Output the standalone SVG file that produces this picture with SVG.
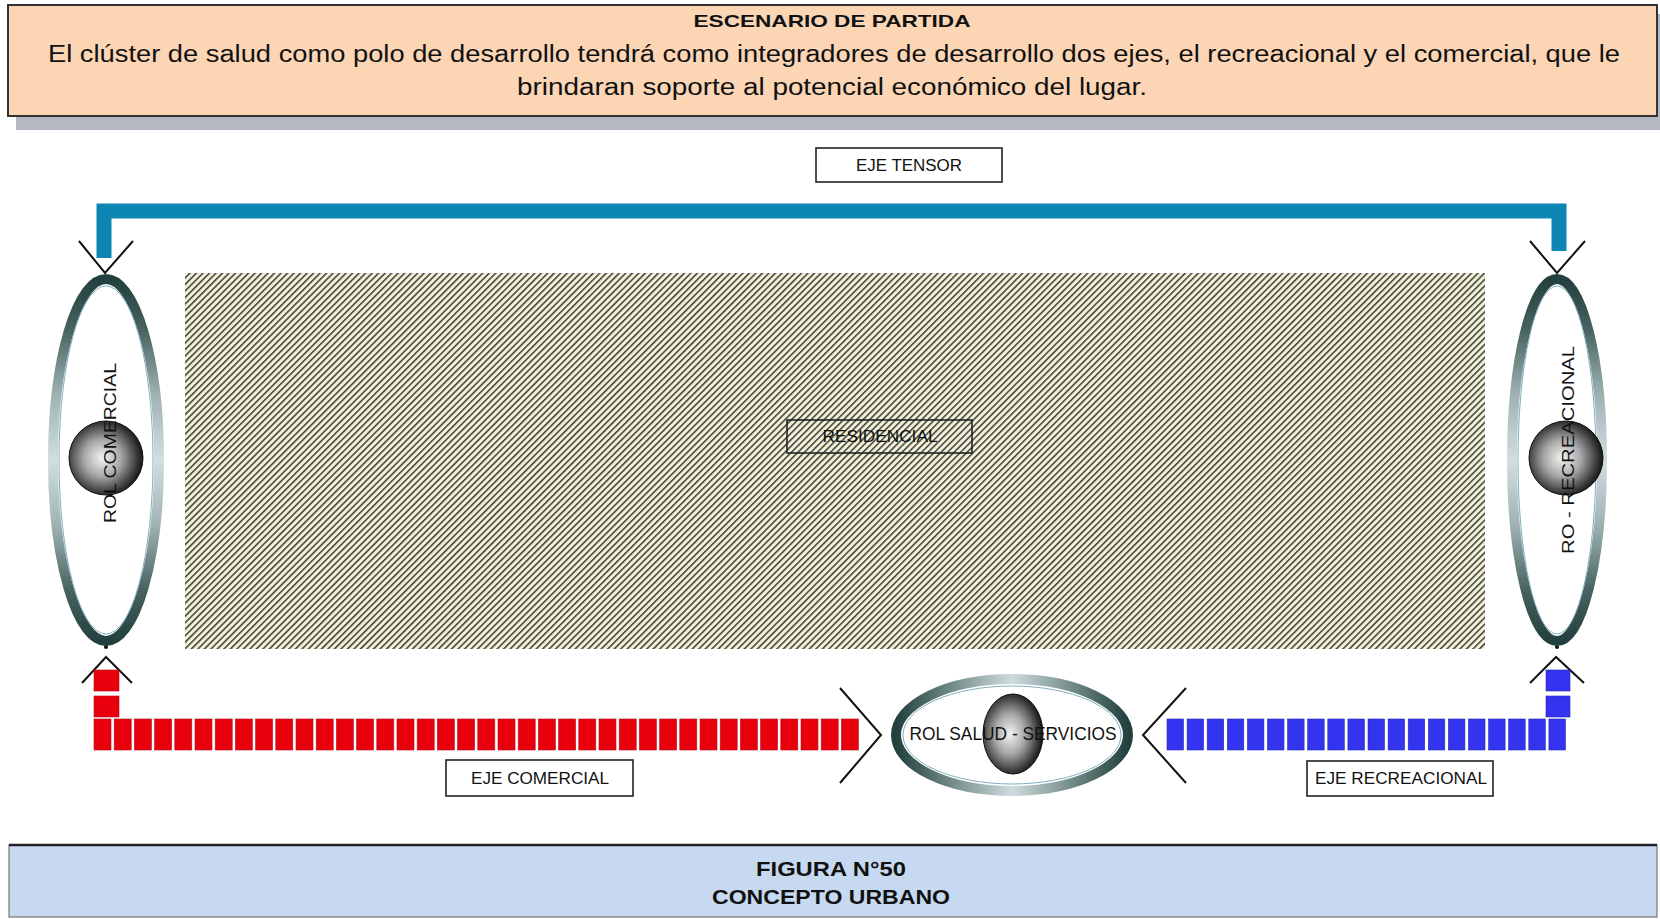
<svg xmlns="http://www.w3.org/2000/svg" width="1660" height="919" viewBox="0 0 1660 919">
<style>
.t{font-family:"Liberation Sans",Arial,sans-serif;fill:#111}
.b{font-weight:bold}
.lbl{fill:#fff;stroke:#222;stroke-width:1.6}
.lbl2{fill:none;stroke:#222;stroke-width:1.6}
.chev{fill:none;stroke:#111;stroke-width:2}
.red{fill:#e8000c;stroke:#b5101a;stroke-width:0.6}
.blue{fill:#3333f0;stroke:#2a2ab8;stroke-width:0.6}
</style>
<defs>
<pattern id="hatch" width="4.6" height="4.6" patternUnits="userSpaceOnUse" patternTransform="rotate(45)">
<rect width="4.6" height="4.6" fill="#f3f3dc"/>
<rect x="0" y="0" width="1.6" height="4.6" fill="#44443a"/>
</pattern>
<linearGradient id="ringV" x1="0" y1="0" x2="0" y2="1">
<stop offset="0" stop-color="#22403e"/>
<stop offset="0.14" stop-color="#48635f"/>
<stop offset="0.32" stop-color="#9fb2b3"/>
<stop offset="0.5" stop-color="#d2dee0"/>
<stop offset="0.68" stop-color="#9fb2b3"/>
<stop offset="0.86" stop-color="#48635f"/>
<stop offset="1" stop-color="#22403e"/>
</linearGradient>
<linearGradient id="ringH" x1="0" y1="0" x2="1" y2="0">
<stop offset="0" stop-color="#22403e"/>
<stop offset="0.18" stop-color="#5d7875"/>
<stop offset="0.5" stop-color="#cfdcde"/>
<stop offset="0.82" stop-color="#5d7875"/>
<stop offset="1" stop-color="#22403e"/>
</linearGradient>
<radialGradient id="sphere" cx="0.45" cy="0.5" r="0.55">
<stop offset="0" stop-color="#f4f4f4"/>
<stop offset="0.45" stop-color="#a8a8a8"/>
<stop offset="0.85" stop-color="#3a3a3a"/>
<stop offset="1" stop-color="#151515"/>
</radialGradient>
</defs>
<rect width="1660" height="919" fill="#fff"/>

<g id="header">
<rect x="16" y="14" width="1650" height="116" fill="#b3b8c2"/>
<rect x="8" y="5" width="1649" height="111" fill="#fcd5b5" stroke="#333" stroke-width="2"/>
<text class="t b" x="832" y="27" font-size="17" text-anchor="middle" textLength="277" lengthAdjust="spacingAndGlyphs">ESCENARIO DE PARTIDA</text>
<text class="t" x="834" y="62" font-size="23" text-anchor="middle" textLength="1572" lengthAdjust="spacingAndGlyphs">El clúster de salud como polo de desarrollo tendrá como integradores de desarrollo dos ejes, el recreacional y el comercial, que le</text>
<text class="t" x="832" y="95" font-size="23" text-anchor="middle" textLength="630" lengthAdjust="spacingAndGlyphs">brindaran soporte  al potencial económico del lugar.</text>
</g>

<g id="residencial">
<rect x="185" y="273" width="1300" height="376" fill="url(#hatch)"/>
<rect x="787" y="420" width="185" height="33" class="lbl2"/>
<text class="t" x="880" y="442" font-size="16" text-anchor="middle" textLength="115" lengthAdjust="spacingAndGlyphs" fill="#333">RESIDENCIAL</text>
</g>

<g id="connectors">
<path d="M104,258 V211 H1559 V251" fill="none" stroke="#0e86b4" stroke-width="15"/>
<polyline class="chev" points="79,241 105,273 133,241"/>
<polyline class="chev" points="1530,241 1557,273 1585,241"/>
<polyline class="chev" points="82,683 106,657 132,683"/>
<polyline class="chev" points="1530,683 1556,657 1584,683"/>
<polyline class="chev" points="840,688 881,735 840,783"/>
<polyline class="chev" points="1186,688 1143,735 1186,783"/>
<circle cx="106" cy="647" r="2" fill="#111"/>
<circle cx="1557" cy="647" r="2" fill="#111"/>
</g>

<g id="eje-tensor">
<rect x="816" y="148" width="186" height="34" class="lbl"/>
<text class="t" x="909" y="171" font-size="16" text-anchor="middle" textLength="106" lengthAdjust="spacingAndGlyphs">EJE TENSOR</text>
</g>

<g id="rol-comercial">
<ellipse cx="106" cy="460" rx="53" ry="181" fill="none" stroke="url(#ringV)" stroke-width="10"/>
<ellipse cx="106" cy="460" rx="47" ry="174" fill="none" stroke="#7fb0bd" stroke-width="1"/>
<circle cx="106" cy="458" r="37" fill="url(#sphere)" stroke="#111" stroke-width="1"/>
<text class="t" transform="translate(116,443) rotate(-90)" x="0" y="0" font-size="16" text-anchor="middle" textLength="160" lengthAdjust="spacingAndGlyphs">ROL COMERCIAL</text>
</g>

<g id="rol-recreacional">
<ellipse cx="1557" cy="460" rx="45" ry="181" fill="none" stroke="url(#ringV)" stroke-width="10"/>
<ellipse cx="1557" cy="460" rx="39" ry="174" fill="none" stroke="#7fb0bd" stroke-width="1"/>
<circle cx="1566" cy="458" r="37" fill="url(#sphere)" stroke="#111" stroke-width="1"/>
<text class="t" transform="translate(1574,450) rotate(-90)" x="0" y="0" font-size="16" text-anchor="middle" textLength="208" lengthAdjust="spacingAndGlyphs">RO - RECREACIONAL</text>
</g>

<g id="eje-comercial-bar">
<rect class="red" x="94" y="670" width="25" height="21"/>
<rect class="red" x="94" y="696" width="25" height="21"/>
<rect class="red" x="94" y="719" width="17" height="31"/>
<rect class="red" x="114.2" y="719" width="17" height="31"/>
<rect class="red" x="134.4" y="719" width="17" height="31"/>
<rect class="red" x="154.6" y="719" width="17" height="31"/>
<rect class="red" x="174.8" y="719" width="17" height="31"/>
<rect class="red" x="195" y="719" width="17" height="31"/>
<rect class="red" x="215.2" y="719" width="17" height="31"/>
<rect class="red" x="235.4" y="719" width="17" height="31"/>
<rect class="red" x="255.6" y="719" width="17" height="31"/>
<rect class="red" x="275.8" y="719" width="17" height="31"/>
<rect class="red" x="296" y="719" width="17" height="31"/>
<rect class="red" x="316.2" y="719" width="17" height="31"/>
<rect class="red" x="336.4" y="719" width="17" height="31"/>
<rect class="red" x="356.6" y="719" width="17" height="31"/>
<rect class="red" x="376.8" y="719" width="17" height="31"/>
<rect class="red" x="397" y="719" width="17" height="31"/>
<rect class="red" x="417.2" y="719" width="17" height="31"/>
<rect class="red" x="437.4" y="719" width="17" height="31"/>
<rect class="red" x="457.6" y="719" width="17" height="31"/>
<rect class="red" x="477.8" y="719" width="17" height="31"/>
<rect class="red" x="498" y="719" width="17" height="31"/>
<rect class="red" x="518.2" y="719" width="17" height="31"/>
<rect class="red" x="538.4" y="719" width="17" height="31"/>
<rect class="red" x="558.6" y="719" width="17" height="31"/>
<rect class="red" x="578.8" y="719" width="17" height="31"/>
<rect class="red" x="599" y="719" width="17" height="31"/>
<rect class="red" x="619.2" y="719" width="17" height="31"/>
<rect class="red" x="639.4" y="719" width="17" height="31"/>
<rect class="red" x="659.6" y="719" width="17" height="31"/>
<rect class="red" x="679.8" y="719" width="17" height="31"/>
<rect class="red" x="700" y="719" width="17" height="31"/>
<rect class="red" x="720.2" y="719" width="17" height="31"/>
<rect class="red" x="740.4" y="719" width="17" height="31"/>
<rect class="red" x="760.6" y="719" width="17" height="31"/>
<rect class="red" x="780.8" y="719" width="17" height="31"/>
<rect class="red" x="801" y="719" width="17" height="31"/>
<rect class="red" x="821.2" y="719" width="17" height="31"/>
<rect class="red" x="841.4" y="719" width="17" height="31"/>
</g>

<g id="eje-recreacional-bar">
<rect class="blue" x="1546" y="670" width="24" height="21"/>
<rect class="blue" x="1546" y="696" width="24" height="21"/>
<rect class="blue" x="1167" y="719" width="16.5" height="31"/>
<rect class="blue" x="1187.1" y="719" width="16.5" height="31"/>
<rect class="blue" x="1207.2" y="719" width="16.5" height="31"/>
<rect class="blue" x="1227.3" y="719" width="16.5" height="31"/>
<rect class="blue" x="1247.4" y="719" width="16.5" height="31"/>
<rect class="blue" x="1267.5" y="719" width="16.5" height="31"/>
<rect class="blue" x="1287.6" y="719" width="16.5" height="31"/>
<rect class="blue" x="1307.7" y="719" width="16.5" height="31"/>
<rect class="blue" x="1327.8" y="719" width="16.5" height="31"/>
<rect class="blue" x="1347.9" y="719" width="16.5" height="31"/>
<rect class="blue" x="1368" y="719" width="16.5" height="31"/>
<rect class="blue" x="1388.1" y="719" width="16.5" height="31"/>
<rect class="blue" x="1408.2" y="719" width="16.5" height="31"/>
<rect class="blue" x="1428.3" y="719" width="16.5" height="31"/>
<rect class="blue" x="1448.4" y="719" width="16.5" height="31"/>
<rect class="blue" x="1468.5" y="719" width="16.5" height="31"/>
<rect class="blue" x="1488.6" y="719" width="16.5" height="31"/>
<rect class="blue" x="1508.7" y="719" width="16.5" height="31"/>
<rect class="blue" x="1528.8" y="719" width="16.5" height="31"/>
<rect class="blue" x="1548.9" y="719" width="16.5" height="31"/>
</g>

<g id="rol-salud">
<ellipse cx="1012" cy="735" rx="116" ry="56" fill="none" stroke="url(#ringH)" stroke-width="10"/>
<ellipse cx="1012" cy="735" rx="109" ry="49" fill="none" stroke="#7fb0bd" stroke-width="1"/>
<ellipse cx="1013" cy="734" rx="30" ry="40" fill="url(#sphere)" stroke="#111" stroke-width="1"/>
<text class="t" x="1013" y="740" font-size="18" text-anchor="middle" textLength="207" lengthAdjust="spacingAndGlyphs">ROL SALUD - SERVICIOS</text>
</g>

<g id="eje-comercial">
<rect x="446" y="760" width="187" height="36" class="lbl"/>
<text class="t" x="540" y="784" font-size="16" text-anchor="middle" textLength="138" lengthAdjust="spacingAndGlyphs">EJE COMERCIAL</text>
</g>

<g id="eje-recreacional">
<rect x="1307" y="761" width="186" height="35" class="lbl"/>
<text class="t" x="1401" y="784" font-size="16" text-anchor="middle" textLength="172" lengthAdjust="spacingAndGlyphs">EJE RECREACIONAL</text>
</g>

<g id="footer">
<rect x="9" y="845" width="1648" height="72" fill="#c6d9f1" stroke="#777" stroke-width="1.2"/>
<line x1="9" y1="845" x2="1657" y2="845" stroke="#222" stroke-width="2.5"/>
<text class="t b" x="831" y="876" font-size="20" text-anchor="middle" textLength="150" lengthAdjust="spacingAndGlyphs">FIGURA  N°50</text>
<text class="t b" x="831" y="904" font-size="20" text-anchor="middle" textLength="238" lengthAdjust="spacingAndGlyphs">CONCEPTO URBANO</text>
</g>
</svg>
